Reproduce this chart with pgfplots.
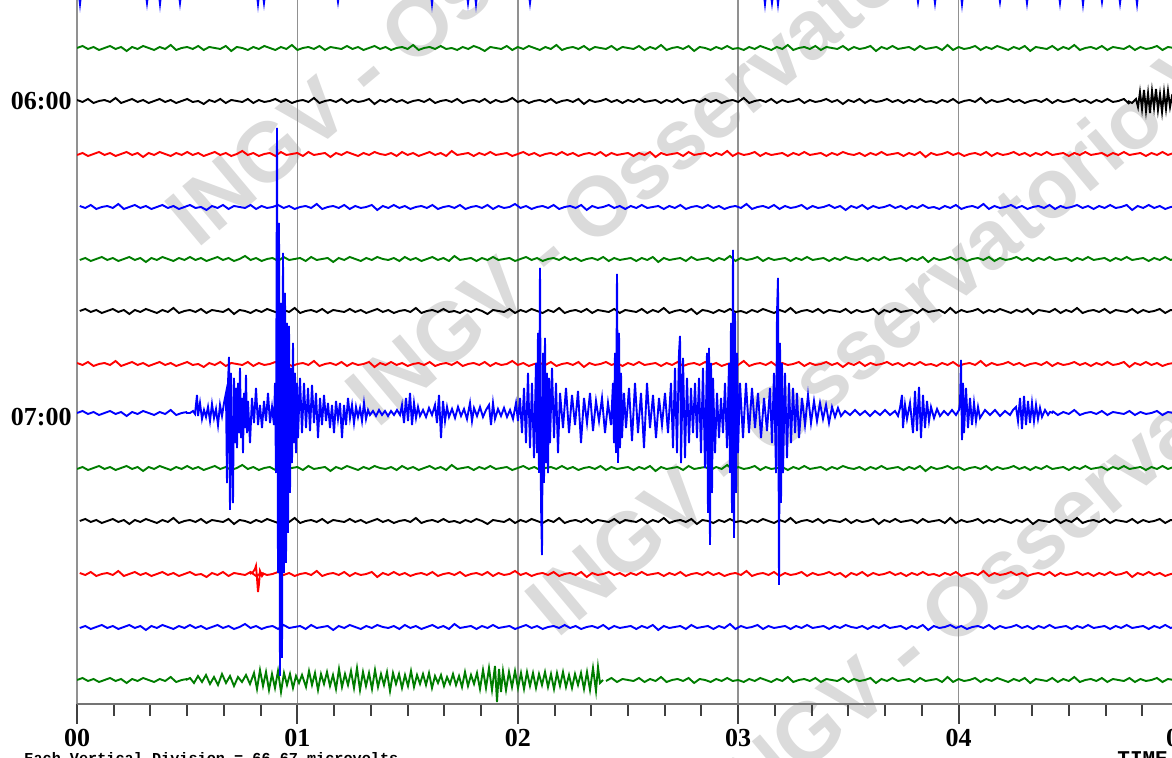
\documentclass[border=0pt]{standalone}
\usepackage{pgfplots}
\pgfplotsset{compat=1.18}
\usepackage{pgfplotstable}
\usepackage{fontspec}
\setmainfont{Liberation Serif}
\newfontfamily\monob{Liberation Mono}
\newfontfamily\wmfont{Liberation Sans}
\definecolor{tgreen}{RGB}{0,125,0}
\definecolor{tred}{RGB}{255,0,0}
\definecolor{tblue}{RGB}{0,0,255}
\definecolor{gridgray}{RGB}{145,145,145}

% shared background noise, 0.025 min per row (values in pixels, up positive)
\pgfplotstableread{
a b c
0 1 -1
2 -1 1
-1 2 -2
1 -2 0
-2 0 2
0 1 -1
2 -1 1
-1 3 -2
1 -2 0
-3 0 2
1 2 -1
-1 -1 1
2 1 -3
0 -2 1
-2 0 -1
1 2 2
-1 -1 0
3 1 -2
-2 -2 1
0 0 -1
1 2 2
-1 -1 -1
2 0 1
-2 -3 -2
1 1 0
0 -1 2
-1 2 -1
2 -2 1
-3 1 -2
1 0 0
0 -1 3
-2 2 -1
1 -2 1
-1 1 -2
2 -1 0
0 0 1
-2 2 -2
1 -1 2
-1 1 -1
3 -2 0
-2 0 1
0 1 -2
1 -1 2
-1 3 -1
2 -2 0
-2 0 1
1 1 -3
0 -1 1
-1 2 -1
2 -2 2
-1 1 0
1 -1 -2
-2 0 1
0 2 -1
2 -3 2
-1 1 0
1 -1 -1
-2 2 1
0 -1 -2
1 1 2
-1 -2 -1
3 0 1
-2 1 -2
0 -1 0
1 2 2
-1 -2 -1
2 0 1
-1 1 -2
0 -1 3
-2 2 -1
1 -2 0
-1 0 1
2 1 -2
0 -1 1
-3 2 -1
1 -2 2
0 1 -1
-1 -1 0
2 0 1
-2 3 -2
1 -1 0
-1 1 2
2 -2 -1
0 0 1
-2 1 -2
1 -1 0
-1 2 1
3 -2 -1
-2 0 2
0 1 -1
1 -1 1
-1 2 -2
2 -3 0
-2 1 1
1 -1 -1
0 0 2
-1 2 -2
2 -1 1
-2 1 -1
1 -2 0
0 1 1
-1 -1 -2
2 2 1
-2 -1 -1
1 0 2
-1 1 -3
3 -2 1
-2 1 -1
0 -1 0
1 2 1
-1 -2 -2
2 0 2
-3 1 -1
1 -1 0
0 2 1
-2 -1 -2
1 1 1
-1 -2 -1
2 0 3
-1 1 -2
0 -1 1
-2 3 -1
1 -2 0
-1 0 2
2 1 -2
0 -1 1
-2 2 -1
1 -2 0
-1 1 1
3 -1 -2
-2 0 1
0 2 -1
1 -2 2
-1 1 -1
2 -1 0
-2 0 1
1 2 -2
0 -1 1
-1 1 -1
2 -3 2
-2 1 0
1 -1 -1
-1 2 1
0 -2 -2
2 1 1
-3 -1 -1
1 0 2
-1 2 -1
2 -1 0
-1 1 1
0 -2 -2
1 1 1
-2 -1 -1
2 2 2
-1 -1 -3
0 0 1
1 -2 -1
-2 1 0
3 -1 2
-2 2 -1
1 -2 1
-1 0 -2
0 1 0
2 -1 1
-2 3 -1
1 -2 2
-1 1 -2
2 -1 1
0 0 -1
-2 2 0
1 -1 2
-1 1 -1
2 -2 1
-3 0 -2
1 1 1
0 -1 -1
-1 2 2
2 -2 -1
-2 1 0
1 -1 1
-1 0 -2
3 2 1
-2 -1 -1
0 1 2
1 -2 -1
-1 1 0
2 -1 1
-2 2 -2
1 -1 1
0 0 -1
-1 2 2
2 -3 -1
-2 1 0
1 -1 1
-1 2 -2
0 -1 1
2 1 -1
-2 -2 2
1 0 -1
0 1 1
}\noise

% 07:00 blue trace, events (x in pixels of the sheet, v up-positive pixels)
\pgfplotstableread{
px v
186 0
190 0
193 2
195 -1
197 18
198 -3
200 10
202 -6
204 3
206 -4
208 6
210 -8
212 9
214 -5
216 4
218 -12
220 8
222 -3
224 10
226 20
227 -70
228 30
229 56
230 -97
231 40
232 -40
233 -90
234 35
235 -30
236 25
237 -35
238 30
239 -20
240 45
241 -25
242 15
243 -40
244 20
245 -15
246 38
247 -20
248 12
250 -30
252 15
254 -10
256 25
258 -12
260 8
262 -15
264 12
266 -8
268 20
270 -10
272 6
274 -12
275 30
276 -60
277 285
278 -160
279 190
280 -263
281 110
282 -245
283 160
284 -160
285 120
286 -150
287 90
288 -120
289 87
290 -80
291 45
292 -50
293 70
294 -30
295 40
296 -40
297 30
298 -25
300 35
302 -20
304 30
306 -15
308 25
310 -18
312 28
314 -10
316 20
318 -25
320 15
322 -12
324 18
326 -8
328 10
330 -15
332 8
334 -20
336 12
338 -6
340 10
342 -25
344 8
346 -12
348 15
350 -5
352 8
354 -10
356 6
358 -4
360 5
362 -8
364 10
366 -6
368 3
370 -2
373 2
376 -3
379 3
382 -2
385 2
388 -3
391 2
394 -2
397 3
400 -2
402 8
404 -10
406 15
408 -8
410 20
412 -12
414 10
416 -5
418 6
420 -3
423 3
426 -4
429 5
432 -2
435 8
437 -10
439 18
441 -25
443 12
445 -8
447 6
449 -4
452 4
455 -5
458 6
461 -3
464 4
467 -6
470 10
472 -8
474 5
477 -3
480 6
483 -4
486 3
489 8
491 -12
493 10
495 -6
498 4
501 -3
504 5
507 -4
510 3
513 -6
516 10
518 -8
520 15
522 -20
524 25
526 -30
528 40
530 -35
532 30
534 -45
536 50
537 -40
538 80
539 -60
540 145
541 -90
542 -142
543 60
544 -70
545 75
546 -50
547 40
548 -60
549 35
550 -30
552 45
554 -25
556 30
558 -40
560 20
563 -15
566 25
569 -20
572 18
575 -12
578 22
581 -30
584 15
587 -10
590 20
593 -18
596 12
599 -8
602 15
605 -20
608 10
611 -12
613 30
614 -30
615 60
616 -40
617 139
618 -50
619 80
620 -35
621 40
622 -25
624 20
626 -15
629 25
632 -28
635 30
638 -20
641 20
644 -35
647 30
650 -15
653 18
656 -25
659 15
662 -12
665 20
668 -20
671 30
673 -35
675 45
677 -40
679 60
680 77
681 -50
683 55
685 -45
687 35
689 -30
691 25
693 -20
695 30
697 -25
699 35
701 -40
703 45
705 -55
707 60
708 -100
709 65
710 -132
711 50
712 -80
713 35
715 -40
717 20
719 -25
721 15
723 -20
725 30
727 -35
729 50
730 -60
731 90
732 -100
733 163
734 -125
735 100
736 -80
737 60
738 -40
740 30
743 -25
746 30
749 -20
752 25
755 -15
758 20
761 -25
764 15
767 -18
770 25
772 -30
774 40
776 -60
777 100
778 135
779 -172
780 70
781 -90
782 50
783 -60
785 40
787 -45
789 30
791 -30
793 25
795 -20
797 20
799 -25
802 15
805 -12
808 18
811 -10
814 12
817 -8
820 10
823 -6
826 8
829 -10
832 6
835 -4
838 5
841 -3
845 2
850 -2
855 3
860 -2
865 2
870 -3
875 2
880 -2
885 3
890 -2
895 2
898 -3
900 5
902 18
903 -15
905 8
907 -6
910 10
913 -20
915 22
917 -18
919 26
921 -25
923 18
925 -15
927 12
929 -8
931 6
934 -5
937 4
940 -3
944 2
948 -2
952 3
956 -2
959 3
960 10
961 53
962 -27
963 30
964 -20
966 25
968 -15
970 15
972 -12
974 10
976 -8
978 6
980 -5
985 3
990 -2
995 3
1000 -3
1005 2
1010 -2
1013 3
1016 6
1018 -8
1020 15
1022 -16
1024 17
1026 -12
1028 12
1030 -10
1032 10
1034 -8
1036 8
1038 -6
1040 5
1042 -4
1045 3
1048 -2
1050 1
1053 0
}\blueev

% last green line, noisy stretch
\pgfplotstableread{
px v
186 0
190 2
194 -3
198 4
202 -2
206 5
210 -4
214 3
218 -5
222 6
226 -3
230 4
234 -6
238 3
242 -2
246 5
250 -4
254 7
257 -9
260 10
263 -6
266 8
269 -10
272 6
275 -8
278 9
281 -12
284 7
287 -5
290 6
293 -8
296 4
299 -3
302 5
306 -7
309 9
312 -5
315 7
318 -10
321 6
324 -4
327 8
330 -6
333 5
336 -9
339 11
342 -7
345 6
348 -5
351 9
354 -8
357 12
360 -10
363 8
366 -6
369 7
372 -9
375 10
378 -7
381 6
384 -5
387 8
390 -11
393 7
396 -4
399 6
402 -8
405 5
408 -6
411 9
414 -7
417 5
420 -4
423 6
426 -5
429 7
432 -8
435 4
438 -3
441 5
444 -6
447 3
450 -4
453 6
456 -5
459 4
462 -7
465 8
468 -6
471 5
474 -4
477 7
480 -9
483 10
486 -8
489 12
492 -10
495 14
497 -22
499 11
501 -12
503 9
506 -10
509 8
512 -7
515 9
518 -8
521 7
524 -9
527 8
530 -6
533 7
536 -8
539 6
542 -5
545 8
548 -7
551 6
554 -9
557 7
560 -6
563 8
566 -7
569 5
572 -8
575 6
578 -5
581 7
584 -9
587 8
590 -10
593 12
596 -11
598 13
600 -3
603 0
}\greenev

\pgfplotstableread{
px v
1128 0
1132 -2
1136 2
1138 -6
1140 9
1142 -8
1144 11
1146 -10
1148 8
1150 -12
1152 10
1154 -7
1156 12
1158 -9
1160 7
1162 -11
1164 9
1166 -8
1168 10
1170 -6
1172 5
1176 0
}\blackev

\pgfplotstableread{
px v
250 0
253 2
255 5
256 8
257 -4
258 -18
259 -10
260 3
262 -2
264 1
}\redev

\pgfplotstableread{
px v
70 0
79 0
80 -9
81 0
146 0
147 -8
148 0
159 0
160 -9
161 0
179 0
180 -8
181 0
257 0
258 -9
259 0
263 0
264 -8
265 0
337 0
338 -7
339 0
431 0
432 -9
433 0
467 0
468 -8
469 0
475 0
476 -9
477 0
529 0
530 -8
531 0
764 0
765 -9
766 0
771 0
772 -8
773 0
777 0
778 -9
779 0
917 0
918 -7
919 0
934 0
935 -8
936 0
961 0
962 -9
963 0
999 0
1000 -7
1001 0
1026 0
1027 -8
1028 0
1059 0
1060 -8
1061 0
1082 0
1083 -9
1084 0
1101 0
1102 -7
1103 0
1119 0
1120 -8
1121 0
1136 0
1137 -9
1138 0
1180 0
}\topev

\begin{document}
\begin{tikzpicture}
% watermark
\begin{scope}[every node/.style={anchor=base west, rotate=40, text=black!14, inner sep=0pt,
  font=\wmfont\bfseries\fontsize{42}{42}\selectfont}]
\node at (60pt,227pt) {INGV - Osservatorio Vesuviano};
\node at (150pt,137pt) {INGV - Osservatorio Vesuviano};
\node at (240pt,32pt) {INGV - Osservatorio Vesuviano};
\node at (330pt,-63pt) {INGV - Osservatorio Vesuviano};
\end{scope}
\begin{axis}[
  scale only axis, width=551pt, height=352pt,
  at={(0,0)}, anchor=south west,
  xmin=0, xmax=5, ymin=0, ymax=704,
  axis line style={draw=none},
  ytick=\empty,
  xtick={0,1,2,3,4,5},
  xticklabels={00,01,02,03,04,05},
  minor xtick={0,0.16667,...,5},
  xtick pos=left,
  tick align=outside,
  major tick length=10pt, minor tick length=6pt,
  tick style={black!75, line width=1pt},
  xmajorgrids,
  major grid style={gridgray, line width=0.8pt},
  xticklabel style={font=\fontsize{13}{13}\selectfont\bfseries, yshift=1pt},
  every axis plot/.append style={line width=0.95pt, mark=none},
]
% quiet traces
\addplot[tgreen] table[x expr=\coordindex*0.025, y expr=\thisrow{a}+656]{\noise};
\addplot[black, restrict x to domain=0:4.78] table[x expr=\coordindex*0.025, y expr=\thisrow{b}+603]{\noise};
\addplot[tred] table[x expr=\coordindex*0.025, y expr=\thisrow{c}+550]{\noise};
\addplot[tblue] table[x expr=\coordindex*0.025+0.0125, y expr=\thisrow{b}+497]{\noise};
\addplot[tgreen] table[x expr=\coordindex*0.025+0.0125, y expr=\thisrow{c}+445]{\noise};
\addplot[black] table[x expr=\coordindex*0.025+0.0125, y expr=\thisrow{a}+393]{\noise};
\addplot[tred] table[x expr=\coordindex*0.025, y expr=\thisrow{b}+340]{\noise};
\addplot[tblue, restrict x to domain=0:0.5] table[x expr=\coordindex*0.025, y expr=\thisrow{a}+291]{\noise};
\addplot[tblue, restrict x to domain=4.42:5] table[x expr=\coordindex*0.025, y expr=\thisrow{a}+291]{\noise};
\addplot[tgreen] table[x expr=\coordindex*0.025, y expr=\thisrow{c}+236]{\noise};
\addplot[black] table[x expr=\coordindex*0.025+0.0125, y expr=\thisrow{a}+183]{\noise};
\addplot[tred] table[x expr=\coordindex*0.025+0.0125, y expr=\thisrow{b}+130]{\noise};
\addplot[tblue] table[x expr=\coordindex*0.025+0.0125, y expr=\thisrow{c}+77]{\noise};
\addplot[tgreen, restrict x to domain=0:0.5] table[x expr=\coordindex*0.025, y expr=\thisrow{a}+24]{\noise};
\addplot[tgreen, restrict x to domain=2.38:5] table[x expr=\coordindex*0.025, y expr=\thisrow{a}+24]{\noise};
% events
\addplot[tblue] table[x expr=(\thisrow{px}-77)/220.4, y expr=\thisrow{v}+709]{\topev};
\addplot[black] table[x expr=(\thisrow{px}-77)/220.4, y expr=\thisrow{v}+603]{\blackev};
\addplot[tred] table[x expr=(\thisrow{px}-77)/220.4, y expr=\thisrow{v}+130]{\redev};
\addplot[tgreen] table[x expr=(\thisrow{px}-77)/220.4, y expr=\thisrow{v}+24]{\greenev};
\addplot[tblue] table[x expr=(\thisrow{px}-77)/220.4, y expr=\thisrow{v}+291]{\blueev};
\end{axis}
\draw[gridgray!80!black, line width=1.1pt] (0,0) -- (560pt,0);
\node[anchor=east, inner sep=0pt, font=\fontsize{13}{13}\selectfont\bfseries] at (-2.5pt,301.5pt) {06:00};
\node[anchor=east, inner sep=0pt, font=\fontsize{13}{13}\selectfont\bfseries] at (-2.5pt,143.5pt) {07:00};
\node[anchor=base west, inner sep=0pt, font=\monob\bfseries\fontsize{7.6}{7.6}\selectfont] at (-26.5pt,-30pt) {Each Vertical Division =  66.67 microvolts};
\node[anchor=base west, inner sep=0pt, font=\monob\bfseries\fontsize{10.5}{10.5}\selectfont] at (520pt,-31pt) {TIME};
\pgfresetboundingbox
\useasboundingbox (-38.5pt,-27pt) rectangle (547.5pt,352pt);
\end{tikzpicture}
\end{document}
